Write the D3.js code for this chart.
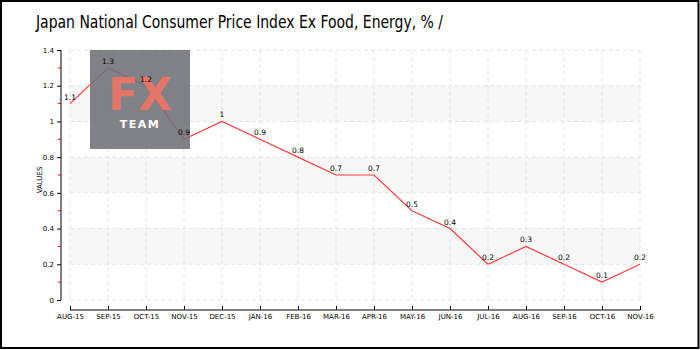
<!DOCTYPE html>
<html>
<head>
<meta charset="utf-8">
<script src="https://cdn.jsdelivr.net/npm/d3@7"></script>
<style>
  body { margin: 0; background: #fff; }
  .tick text { font-family: "DejaVu Sans", sans-serif; font-size: 7px; fill: #000; }
  .tick line { stroke: #000; }
</style>
</head>
<body>
<div id="container"></div>
<script>
/* CONSTANTS AND GLOBALS */
const width = 700,
  height = 350,
  margin = { top: 50, bottom: 50, left: 70, right: 60 };

const months = ["AUG-15", "SEP-15", "OCT-15", "NOV-15", "DEC-15", "JAN-16", "FEB-16", "MAR-16",
  "APR-16", "MAY-16", "JUN-16", "JUL-16", "AUG-16", "SEP-16", "OCT-16", "NOV-16"];
const values = [1.1, 1.3, 1.2, 0.9, 1, 0.9, 0.8, 0.7, 0.7, 0.5, 0.4, 0.2, 0.3, 0.2, 0.1, 0.2];
const yTicks = [0, 0.2, 0.4, 0.6, 0.8, 1, 1.2, 1.4];
const yMinor = [0.1, 0.3, 0.5, 0.7, 0.9, 1.1, 1.3];

const svg = d3.select("#container")
  .append("svg")
  .attr("width", width)
  .attr("height", height);

// outer frame
svg.append("rect")
  .attr("x", 1).attr("y", 1)
  .attr("width", width - 2.5).attr("height", height - 3)
  .attr("fill", "#fff")
  .attr("stroke", "#000")
  .attr("stroke-width", 2);

/* SCALES */
const xScale = d3.scalePoint()
  .domain(months)
  .range([margin.left, width - margin.right]);

const yScale = d3.scaleLinear()
  .domain([0, 1.4])
  .range([height - margin.bottom, margin.top]);

// alternating bands
const bands = [[0.2, 0.4], [0.6, 0.8], [1, 1.2]];
svg.selectAll("rect.band")
  .data(bands)
  .join("rect")
  .attr("class", "band")
  .attr("x", margin.left)
  .attr("width", xScale.range()[1] - margin.left)
  .attr("y", d => yScale(d[1]))
  .attr("height", d => yScale(d[0]) - yScale(d[1]))
  .attr("fill", "#f7f7f7");

// grid
svg.selectAll("line.hgrid")
  .data(yTicks)
  .join("line")
  .attr("class", "hgrid")
  .attr("x1", margin.left)
  .attr("x2", xScale.range()[1])
  .attr("y1", d => yScale(d))
  .attr("y2", d => yScale(d))
  .attr("stroke", "#e2e2e2")
  .attr("stroke-dasharray", "4,3");

svg.selectAll("line.vgrid")
  .data(months)
  .join("line")
  .attr("class", "vgrid")
  .attr("x1", d => xScale(d))
  .attr("x2", d => xScale(d))
  .attr("y1", yScale(1.4))
  .attr("y2", yScale(0))
  .attr("stroke", "#e2e2e2")
  .attr("stroke-dasharray", "4,3");

// y axis
const yAxis = svg.append("g")
  .attr("transform", `translate(61, 0)`)
  .call(d3.axisLeft(yScale).tickValues(yTicks).tickSize(4).tickPadding(3).tickFormat(d3.format("")));
yAxis.select(".domain").attr("stroke", "#000").attr("d", `M0,${yScale(1.4)}V${yScale(0)}`);

svg.selectAll("line.minor")
  .data(yMinor)
  .join("line")
  .attr("class", "minor")
  .attr("x1", 58).attr("x2", 61)
  .attr("y1", d => yScale(d)).attr("y2", d => yScale(d))
  .attr("stroke", "#e00");

// x axis
const xAxis = svg.append("g")
  .attr("transform", `translate(0, 310)`)
  .call(d3.axisBottom(xScale).tickSize(-4).tickPadding(3).tickSizeOuter(0));
xAxis.select(".domain").attr("stroke", "#000").attr("d", `M${margin.left},0H${xScale.range()[1]}`);
xAxis.selectAll(".tick text").attr("dy", "0.9em");

// axis title
svg.append("text")
  .attr("transform", "translate(42, 180) rotate(-90)")
  .attr("text-anchor", "middle")
  .attr("font-family", "DejaVu Sans, sans-serif")
  .attr("font-size", 7)
  .attr("fill", "#000")
  .text("VALUES");

// line
const line = d3.line()
  .x((d, i) => xScale(months[i]))
  .y(d => yScale(d));

svg.append("path")
  .datum(values)
  .attr("fill", "none")
  .attr("stroke", "#ff3b3b")
  .attr("stroke-width", 1.2)
  .attr("d", line);

// watermark
const wm = svg.append("g").attr("transform", "translate(90, 50)");
wm.append("rect")
  .attr("width", 100).attr("height", 99)
  .attr("fill", "#6f6f78")
  .attr("opacity", 0.88);
wm.append("text")
  .attr("x", 50).attr("y", 60)
  .attr("text-anchor", "middle")
  .attr("font-family", "DejaVu Sans, sans-serif")
  .attr("font-weight", "bold")
  .attr("font-size", 44)
  .attr("fill", "#f07664")
  .attr("fill-opacity", 0.92)
  .text("FX");
wm.append("text")
  .attr("x", 50).attr("y", 78)
  .attr("text-anchor", "middle")
  .attr("font-family", "DejaVu Sans, sans-serif")
  .attr("font-weight", "bold")
  .attr("font-size", 11)
  .attr("letter-spacing", 1.5)
  .attr("fill", "#fff")
  .text("TEAM");

// value labels
svg.selectAll("text.val")
  .data(values)
  .join("text")
  .attr("class", "val")
  .attr("x", (d, i) => xScale(months[i]))
  .attr("y", d => yScale(d) - 4)
  .attr("text-anchor", "middle")
  .attr("font-family", "DejaVu Sans, sans-serif")
  .attr("font-size", 7.5)
  .attr("fill", "#000")
  .text(d => d);

// title
svg.append("text")
  .attr("x", 36).attr("y", 28)
  .attr("font-family", "DejaVu Sans Condensed, sans-serif")
  .attr("font-size", 18)
  .attr("fill", "#000")
  .attr("textLength", 407)
  .attr("lengthAdjust", "spacingAndGlyphs")
  .text("Japan National Consumer Price Index Ex Food, Energy, %  /");
</script>
</body>
</html>
